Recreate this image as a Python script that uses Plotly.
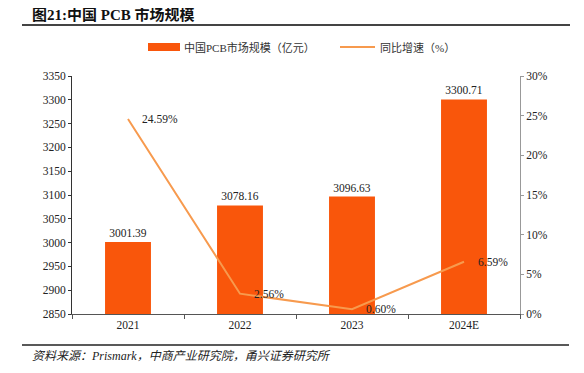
import plotly.graph_objects as go

categories = ["2021", "2022", "2023", "2024E"]
market_size = [3001.39, 3078.16, 3096.63, 3300.71]
growth = [0.2459, 0.0256, 0.0060, 0.0659]
bar_name = "中国PCB市场规模（亿元）"
line_name = "同比增速（%）"

BAR_COLOR = "#F9560B"
LINE_COLOR = "#F79A4E"
SERIF = "Liberation Serif, Times New Roman, Noto Sans CJK SC, serif"

OFF = 8  # default page body margin
W, H = 584 - OFF, 373 - OFF
# plot area in reference pixel coordinates
X0, X1, Y0, Y1 = 72, 520, 76, 314
L, R, T = X0 - OFF, W - (X1 - OFF), Y0 - OFF
B = H - (Y1 - OFF)
PW, PH = X1 - X0, Y1 - Y0


def px(x):
    return (x - X0) / PW


def py(y):
    return (Y1 - y) / PH


fig = go.Figure()
fig.add_trace(go.Bar(
    x=categories, y=market_size, name=bar_name,
    marker=dict(color=BAR_COLOR, line=dict(width=0)), width=0.41,
    text=[f"{v:.2f}" for v in market_size], textposition="outside",
    textfont=dict(family=SERIF, size=11.5, color="#222"), cliponaxis=False,
))
fig.add_trace(go.Scatter(
    x=categories, y=growth, name=line_name, yaxis="y2",
    mode="lines", line=dict(color=LINE_COLOR, width=2),
))

# category axis positions are the category indices
annotations = [
    dict(x=i, y=g, xref="x", yref="y2", text=f"{g*100:.2f}%", showarrow=False,
         xanchor="left", yanchor="middle", xshift=12,
         font=dict(family=SERIF, size=11.5, color="#222"))
    for i, g in enumerate(growth)
]
annotations += [
    dict(text="<b>图21:中国 PCB 市场规模</b>", xref="paper", yref="paper",
         x=px(30), y=py(14), xanchor="left", yanchor="middle",
         showarrow=False, font=dict(size=15, color="#111",
                                    family="Liberation Serif, Noto Sans CJK SC, serif")),
    dict(text=bar_name, xref="paper", yref="paper",
         x=px(182), y=py(47), xanchor="left", yanchor="middle",
         showarrow=False, font=dict(size=11, color="#333")),
    dict(text=line_name, xref="paper", yref="paper",
         x=px(378), y=py(47), xanchor="left", yanchor="middle",
         showarrow=False, font=dict(size=11, color="#333")),
    dict(text="<i>资料来源：Prismark，中商产业研究院，甬兴证券研究所</i>", xref="paper", yref="paper",
         x=px(30), y=py(356), xanchor="left", yanchor="middle",
         showarrow=False, font=dict(size=12, color="#222")),
]

fig.update_layout(
    width=W, height=H,
    margin=dict(l=L, r=R, t=T, b=B, autoexpand=False),
    paper_bgcolor="white", plot_bgcolor="white",
    font=dict(family=SERIF, size=11, color="#222"),
    showlegend=False,
    xaxis=dict(type="category", categoryorder="array", categoryarray=categories,
               showgrid=False, showline=True, linecolor="#555",
               linewidth=1, ticks="outside", tickson="boundaries", ticklen=4,
               tickcolor="#555", tickfont=dict(size=11.5)),
    yaxis=dict(range=[2850, 3350], dtick=50, showgrid=False, showline=True,
               linecolor="#333", linewidth=1, ticks="outside", ticklen=3,
               tickcolor="#333", tickfont=dict(size=11.5), zeroline=False),
    yaxis2=dict(range=[0, 0.30], dtick=0.05, tickformat=".0%", overlaying="y",
                side="right", showgrid=False, showline=True, linecolor="#999",
                linewidth=1, ticks="outside", ticklen=3, tickcolor="#999",
                tickfont=dict(size=11.5), zeroline=False),
    shapes=[
        dict(type="line", xref="paper", yref="paper", x0=px(22), x1=px(570),
             y0=py(25), y1=py(25), line=dict(color="#444", width=2)),
        dict(type="line", xref="paper", yref="paper", x0=px(22), x1=px(569),
             y0=py(345), y1=py(345), line=dict(color="#222", width=1.5)),
        # legend swatches
        dict(type="rect", xref="paper", yref="paper", x0=px(148), x1=px(180),
             y0=py(51), y1=py(43), fillcolor=BAR_COLOR, line=dict(width=0)),
        dict(type="line", xref="paper", yref="paper", x0=px(340), x1=px(375),
             y0=py(47), y1=py(47), line=dict(color=LINE_COLOR, width=2)),
    ],
    annotations=annotations,
)

fig.write_html("out.html")
